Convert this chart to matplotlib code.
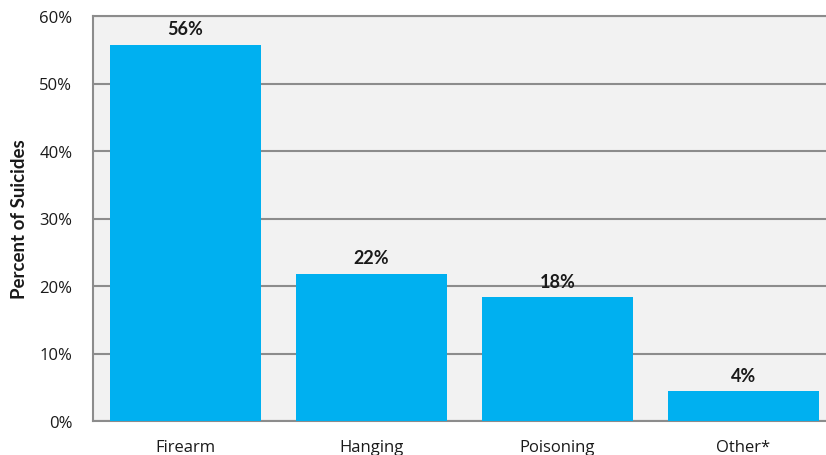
import matplotlib
matplotlib.use("Agg")
import matplotlib.pyplot as plt
from matplotlib.ticker import FuncFormatter

categories = ["Firearm", "Hanging", "Poisoning", "Other*"]
values = [55.7, 21.8, 18.3, 4.4]
value_labels = ["56%", "22%", "18%", "4%"]
yticks = [0, 10, 20, 30, 40, 50, 60]

plt.rcParams['font.family'] = ['Open Sans', 'DejaVu Sans']
BOLD = ['Lato', 'DejaVu Sans']

fig = plt.figure(figsize=(8.26, 4.56), dpi=100)
W, H = 826, 456
left, right, top, bottom = 92.5, 836.5, 17, 422
ax = fig.add_axes([left / W, 1 - bottom / H, (right - left) / W, (bottom - top) / H])
ax.set_facecolor('#f2f2f2')

x = range(len(categories))
bars = ax.bar(x, values, width=0.81, color='#00b0f0', zorder=3)
for xi, v, lab in zip(x, values, value_labels):
    ax.annotate(lab, (xi, v), xytext=(0, 5.5), textcoords='offset points',
                ha='center', va='bottom', fontsize=13, fontweight='bold',
                family=BOLD, color='#1a1a1a')

ax.set_xlim(-0.5, len(categories) - 0.5)
ax.set_ylim(0, 60)
ax.set_yticks(yticks)
ax.yaxis.set_major_formatter(FuncFormatter(lambda v, p: f"{int(v)}%"))
ax.set_xticks(list(x))
ax.set_xticklabels(categories)
ax.tick_params(axis='both', length=0, labelsize=12, colors='#1a1a1a')
ax.tick_params(axis='y', pad=14.5)
ax.tick_params(axis='x', pad=13)
ax.grid(axis='y', color='#8c8c8c', linewidth=1.5, zorder=1)
for s in ['left', 'bottom', 'top']:
    ax.spines[s].set_color('#8c8c8c')
    ax.spines[s].set_linewidth(1.5)
ax.spines['right'].set_visible(False)
ax.set_ylabel("Percent of Suicides", fontsize=13.5, fontweight='bold', family=BOLD,
              color='#1a1a1a', labelpad=8)

fig.savefig("out.png", dpi=100)
